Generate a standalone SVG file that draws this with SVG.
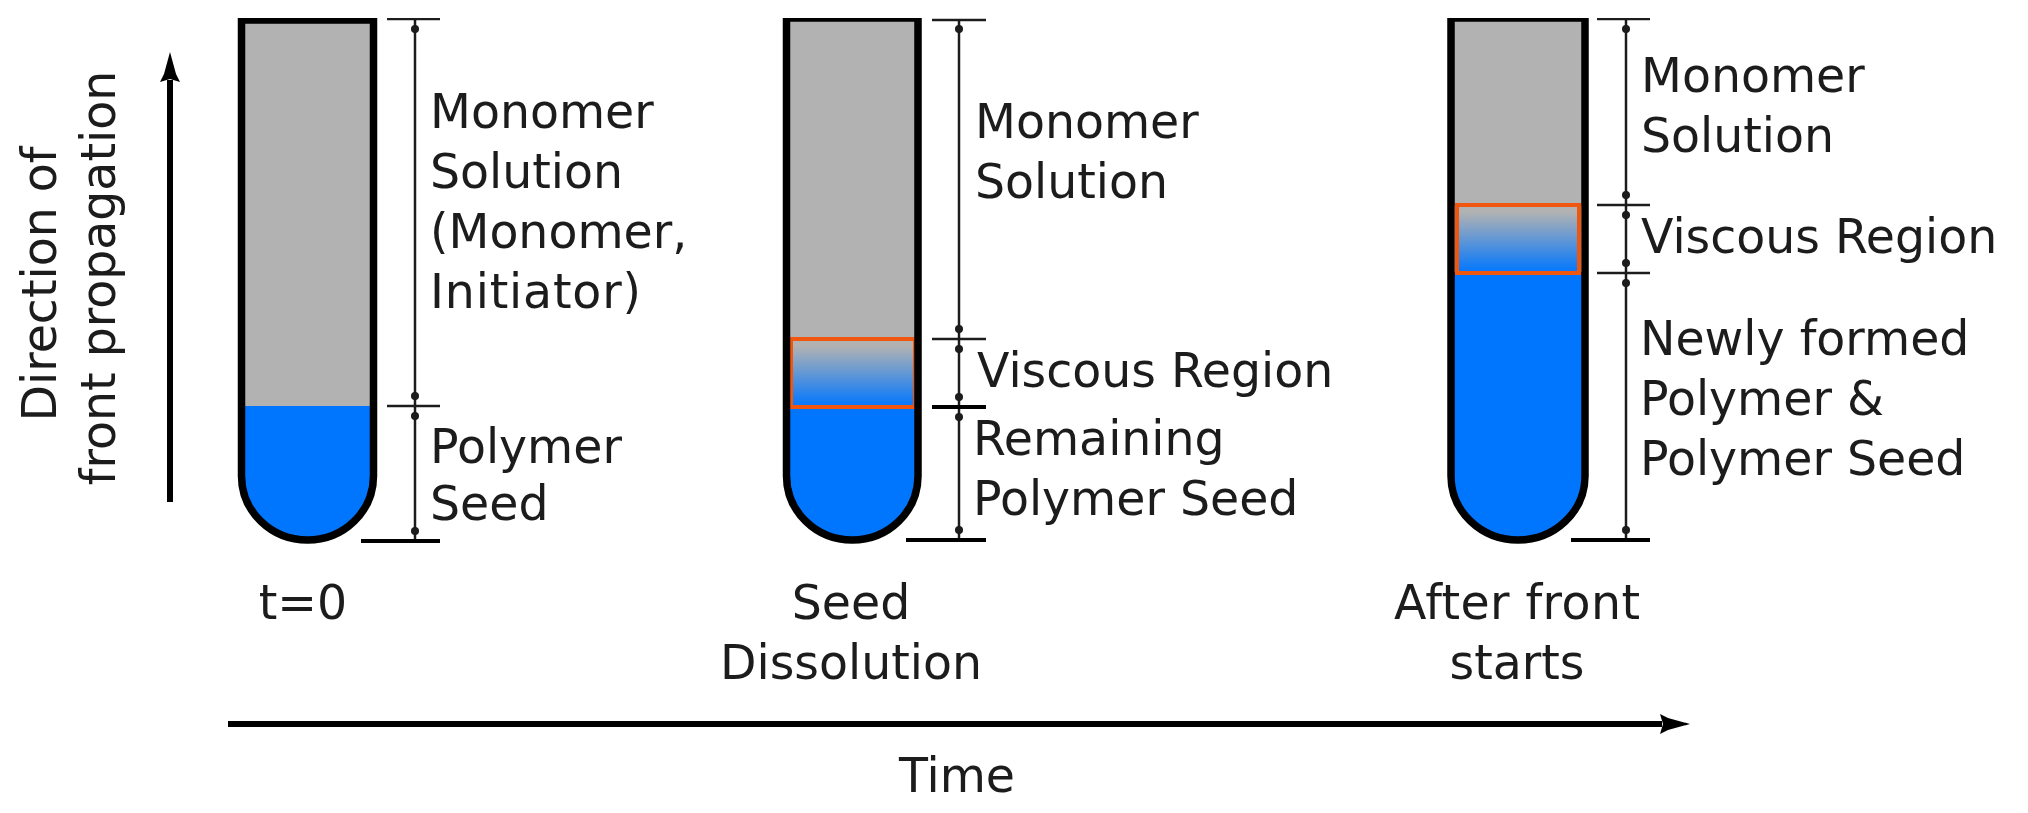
<svg xmlns="http://www.w3.org/2000/svg" width="2028" height="813" viewBox="0 0 2028 813">
<style>
text{font-family:"DejaVu Sans",Verdana,sans-serif;font-size:47.4px;fill:#1a1a1a}
.m{text-anchor:middle}
.wall{fill:none;stroke:#000;stroke-width:7.5}
.grey{fill:#b2b2b2}
.blue{fill:#0076ff}
.box{fill:url(#fade);stroke:#f0560f;stroke-width:4}
.dim{stroke:#1a1a1a;stroke-width:2.5;fill:none}
.dots{stroke:none;fill:none;marker-start:url(#dot);marker-end:url(#dot)}
.tick{stroke:#1a1a1a;stroke-width:2.5}
.tickb{stroke:#000;stroke-width:4}
.arrow{stroke:#000;stroke-width:6;fill:none}
</style>
<defs>
<filter id="soft" x="0" y="0" width="100%" height="100%"><feGaussianBlur stdDeviation="0.6"/></filter>
<linearGradient id="fade" x1="0" y1="0" x2="0" y2="1"><stop offset="0.1" stop-color="#b2b2b2"/><stop offset="1" stop-color="#0076ff"/></linearGradient>
<marker id="dot" viewBox="-4 -4 8 8" markerUnits="userSpaceOnUse" markerWidth="8" markerHeight="8"><circle r="4" fill="#1a1a1a"/></marker>
<marker id="head" viewBox="0 -10 30 20" refX="2" refY="0" markerUnits="userSpaceOnUse" markerWidth="30" markerHeight="20" orient="auto"><path d="M0 -10 L8 -6 L30 0 L8 6 L0 10 L3 0Z" fill="#000"/></marker>
</defs>
<g filter="url(#soft)">
<g id="connectors">
<path class="arrow" d="M170 502V80" marker-end="url(#head)"/>
<path class="arrow" d="M228 724H1662" marker-end="url(#head)"/>
<path class="dim" d="M415 19V541"/><path class="dots" d="M415 29V396"/><path class="dots" d="M415 416V531"/>
<path class="tick" d="M387 19H440M387 406H440"/><path class="tickb" d="M361 541H440"/>
<path class="dim" d="M959 20V540"/><path class="dots" d="M959 29V329"/><path class="dots" d="M959 349V397"/><path class="dots" d="M959 417V530"/>
<path class="tick" d="M932 20H986M932 339H986"/><path class="tickb" d="M932 407H986M906 540H986"/>
<path class="dim" d="M1626 19V540"/><path class="dots" d="M1626 29V195"/><path class="dots" d="M1626 215V263"/><path class="dots" d="M1626 283V530"/>
<path class="tick" d="M1597 19H1650M1597 205H1650M1597 273H1650"/><path class="tickb" d="M1571 540H1650"/>
</g>
<g id="tube-t0">
<path class="grey" d="M241.500 19H373.500V406H241.500Z"/>
<path class="blue" d="M241.500 406H373.500V476A66 64 0 0 1 241.500 476Z"/>
<path class="wall" d="M241.500 20H373.500V476A66 64 0 0 1 241.500 476Z"/>
</g>
<g id="tube-dissolution">
<path class="grey" d="M786.500 18H918V340H786.500Z"/>
<path class="blue" d="M786.500 406H918V476A65.750 64 0 0 1 786.500 476Z"/>
<rect class="box" x="791" y="339" width="124" height="68"/>
<path class="wall" d="M786.500 18H918V476A65.750 64 0 0 1 786.500 476Z"/>
</g>
<g id="tube-front">
<path class="grey" d="M1451 18H1585V206H1451Z"/>
<path class="blue" d="M1451 272H1585V476A67 64 0 0 1 1451 476Z"/>
<rect class="box" x="1457" y="205" width="122" height="68"/>
<path class="wall" d="M1451 18H1585V476A67 64 0 0 1 1451 476Z"/>
</g>
<g id="labels">
<text x="430" y="128">Monomer</text><text x="430" y="188">Solution</text><text x="430" y="248">(Monomer,</text><text x="430" y="308" textLength="211">Initiator)</text>
<text x="430" y="463">Polymer</text><text x="430" y="520">Seed</text>
<text x="975" y="138">Monomer</text><text x="975" y="198">Solution</text>
<text x="977" y="387">Viscous Region</text><text x="973" y="455">Remaining</text><text x="973" y="515">Polymer Seed</text>
<text x="1641" y="92">Monomer</text><text x="1641" y="152">Solution</text>
<text x="1641" y="253">Viscous Region</text><text x="1640" y="355">Newly formed</text><text x="1640" y="415">Polymer &amp;</text><text x="1640" y="475">Polymer Seed</text>
<text class="m" x="303" y="619">t=0</text>
<text class="m" x="851" y="619">Seed</text><text class="m" x="851" y="679">Dissolution</text>
<text x="1394" y="619" textLength="246">After front</text><text class="m" x="1517" y="679">starts</text>
<text class="m" x="957" y="792">Time</text>
<text class="m" transform="translate(56 284) rotate(-90)">Direction of</text>
<text class="m" transform="translate(115 278) rotate(-90)">front propagation</text>
</g>
</g>
</svg>
